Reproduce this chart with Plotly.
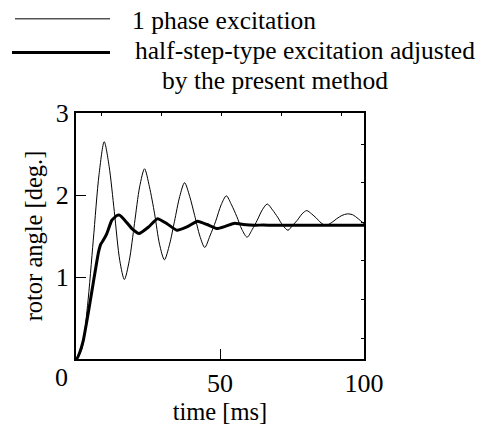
import plotly.graph_objects as go

# ---- data ----
t_thin = [0, 2, 4, 6, 8, 9.8, 11.5, 13.3, 15.2, 16.8, 18.5, 20.3, 22.1, 23.8, 25.5, 27.3, 29.0,
          30.7, 32.5, 34.2, 36.0, 37.7, 39.5, 41.2, 43.0, 44.7, 46.5, 48.5, 50.4, 52.2, 54.0,
          55.8, 57.6, 59.4, 61.2, 62.9, 64.7, 66.4, 68.2, 70.0, 71.8, 73.6, 75.2, 76.8, 78.5,
          80.1, 81.8, 83.4, 85.1, 86.7, 88.6, 90.5, 92.3, 94.2, 96, 98, 100]
y_thin = [0, 0.12, 0.65, 1.45, 2.25, 2.65, 2.35, 1.8, 1.2, 0.97, 1.2, 1.65, 2.1, 2.32, 2.1, 1.77,
          1.4, 1.21, 1.4, 1.68, 1.98, 2.15, 1.98, 1.75, 1.5, 1.36, 1.5, 1.68, 1.88, 1.99, 1.88,
          1.74, 1.58, 1.485, 1.58, 1.69, 1.82, 1.89, 1.82, 1.73, 1.63, 1.57, 1.63, 1.69, 1.77,
          1.81, 1.77, 1.72, 1.66, 1.63, 1.66, 1.71, 1.75, 1.77, 1.76, 1.71, 1.65]

t_thick = [0, 0.2, 1.3, 2.5, 4.3, 6.0, 7.8, 8.6, 9.5, 10.7, 12.4, 14.2, 15.1, 17.0, 19.4, 21.9,
           25.2, 28.3, 31.6, 35.0, 38.5, 42.2, 45.5, 49.0, 52.0, 55.1, 58.0, 62.0, 65.0, 70.0,
           80.0, 90.0, 100.0]
y_thick = [0, 0, 0.08, 0.22, 0.57, 0.93, 1.30, 1.40, 1.45, 1.53, 1.69, 1.75, 1.755, 1.69, 1.59,
           1.53, 1.61, 1.71, 1.65, 1.57, 1.61, 1.68, 1.64, 1.59, 1.62, 1.655, 1.64, 1.63, 1.635,
           1.63, 1.63, 1.63, 1.63]

series_names = ["1 phase excitation", "half-step-type excitation adjusted",
                "by the present method"]
x_ticks = [0, 50, 100]
y_ticks = [1, 2, 3]
top_minor_ticks = [8.7, 29.6, 50.5, 71.3, 92.2]
right_minor_ticks = [0.25, 0.72, 1.20, 1.67, 2.15, 2.62]

FONT = "Liberation Serif, Times New Roman, serif"
FS = 25.5

fig = go.Figure()
fig.add_trace(go.Scatter(x=t_thin, y=y_thin, mode="lines", line=dict(color="black", width=1,
                         shape="spline", smoothing=0.8), showlegend=False))
fig.add_trace(go.Scatter(x=t_thick, y=y_thick, mode="lines", line=dict(color="black", width=3,
                         shape="spline", smoothing=0.4), showlegend=False))
# invisible trace to activate the secondary (top/right) axes
fig.add_trace(go.Scatter(x=[None], y=[None], xaxis="x2", yaxis="y2", showlegend=False))

fig.update_layout(
    width=483, height=427,
    margin=dict(l=76, r=119, t=113, b=58),
    paper_bgcolor="white", plot_bgcolor="white",
    font=dict(family=FONT, size=FS, color="black"),
    xaxis=dict(range=[0, 100], tickvals=x_ticks[1:], ticks="inside", ticklen=10, tickwidth=1,
               tickcolor="black", showline=True, linecolor="black", linewidth=2,
               showgrid=False, zeroline=False, tickfont=dict(size=26),
               title=dict(text="time [ms]", font=dict(size=24.5), standoff=0)),
    yaxis=dict(range=[0, 3], tickvals=y_ticks, ticks="inside", ticklen=10, tickwidth=1,
               tickcolor="black", showline=True, linecolor="black", linewidth=2,
               showgrid=False, zeroline=False, tickfont=dict(size=26),
               title=dict(text="rotor angle [deg.]", font=dict(size=24.5), standoff=6)),
    xaxis2=dict(range=[0, 100], overlaying="x", side="top", tickvals=top_minor_ticks,
                showticklabels=False, ticks="inside", ticklen=3, tickcolor="black",
                showline=True, linecolor="black", linewidth=2, showgrid=False, zeroline=False),
    yaxis2=dict(range=[0, 3], overlaying="y", side="right", tickvals=right_minor_ticks,
                showticklabels=False, ticks="inside", ticklen=3, tickcolor="black",
                showline=True, linecolor="black", linewidth=2, showgrid=False, zeroline=False),
)

# shared origin label "0"
fig.add_annotation(x=x_ticks[0], y=0, xref="x", yref="y", text="0", showarrow=False,
                   xshift=-15, yshift=-18, font=dict(size=26))

# legend drawn at top
fig.add_shape(type="line", xref="paper", yref="paper", x0=-61/288, x1=34/288,
              y0=1 + (113-15)/256, y1=1 + (113-15)/256, line=dict(color="black", width=1))
fig.add_shape(type="line", xref="paper", yref="paper", x0=-64/288, x1=34/288,
              y0=1 + (113-50)/256, y1=1 + (113-50)/256, line=dict(color="black", width=3))
fig.add_annotation(xref="paper", yref="paper", x=54/288, y=1 + (113-17)/256, text=series_names[0],
                   showarrow=False, xanchor="left", yanchor="middle", font=dict(size=FS))
fig.add_annotation(xref="paper", yref="paper", x=57/288, y=1 + (113-48)/256, text=series_names[1],
                   showarrow=False, xanchor="left", yanchor="middle", font=dict(size=FS))
fig.add_annotation(xref="paper", yref="paper", x=84/288, y=1 + (113-79)/256, text=series_names[2],
                   showarrow=False, xanchor="left", yanchor="middle", font=dict(size=FS))

fig.write_html("out.html")
